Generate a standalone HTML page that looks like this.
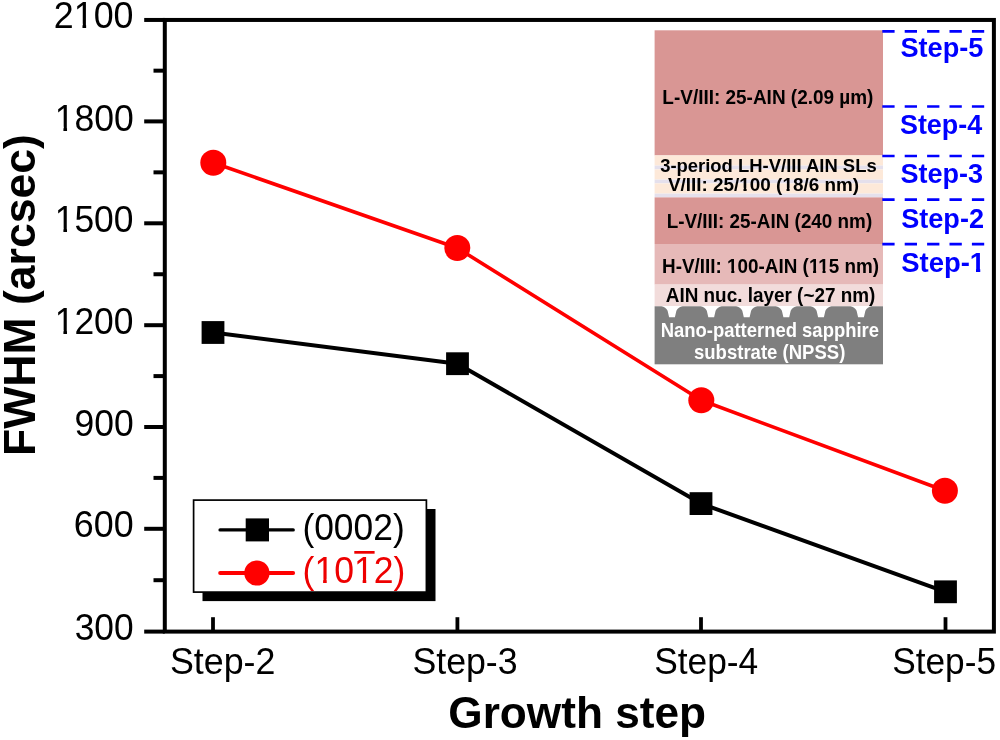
<!DOCTYPE html>
<html><head><meta charset="utf-8"><title>FWHM vs growth step</title><style>
html,body{margin:0;padding:0;background:#fff;width:1000px;height:740px;overflow:hidden}
svg{display:block}
text{font-family:"Liberation Sans",sans-serif}
</style></head><body>
<svg width="1000" height="740" viewBox="0 0 1000 740">
<defs><mask id="mt2" maskUnits="userSpaceOnUse" maskContentUnits="userSpaceOnUse" x="-2000" y="-2000" width="6000" height="6000"><rect x="-2000" y="-2000" width="6000" height="6000" fill="#fff"/><rect x="13.89" y="-3.92" width="7.14" height="5.74" fill="#000"/><rect x="24.74" y="-3.92" width="6.85" height="5.74" fill="#000"/><rect x="54.40" y="-3.92" width="7.14" height="5.74" fill="#000"/><rect x="65.26" y="-3.92" width="6.85" height="5.74" fill="#000"/></mask><mask id="mt3" maskUnits="userSpaceOnUse" maskContentUnits="userSpaceOnUse" x="-2000" y="-2000" width="6000" height="6000"><rect x="-2000" y="-2000" width="6000" height="6000" fill="#fff"/><rect x="22.58" y="-3.99" width="7.29" height="5.85" fill="#000"/><rect x="33.67" y="-3.99" width="7.00" height="5.85" fill="#000"/></mask><mask id="mt4" maskUnits="userSpaceOnUse" maskContentUnits="userSpaceOnUse" x="-2000" y="-2000" width="6000" height="6000"><rect x="-2000" y="-2000" width="6000" height="6000" fill="#fff"/><rect x="1.79" y="-3.94" width="7.17" height="5.77" fill="#000"/><rect x="12.69" y="-3.94" width="6.88" height="5.77" fill="#000"/></mask><mask id="mt5" maskUnits="userSpaceOnUse" maskContentUnits="userSpaceOnUse" x="-2000" y="-2000" width="6000" height="6000"><rect x="-2000" y="-2000" width="6000" height="6000" fill="#fff"/><rect x="1.80" y="-3.95" width="7.19" height="5.78" fill="#000"/><rect x="12.74" y="-3.95" width="6.91" height="5.78" fill="#000"/></mask><mask id="mt6" maskUnits="userSpaceOnUse" maskContentUnits="userSpaceOnUse" x="-2000" y="-2000" width="6000" height="6000"><rect x="-2000" y="-2000" width="6000" height="6000" fill="#fff"/><rect x="1.83" y="-3.97" width="7.26" height="5.83" fill="#000"/><rect x="12.86" y="-3.97" width="6.97" height="5.83" fill="#000"/></mask><mask id="mt18" maskUnits="userSpaceOnUse" maskContentUnits="userSpaceOnUse" x="-2000" y="-2000" width="6000" height="6000"><rect x="-2000" y="-2000" width="6000" height="6000" fill="#fff"/><rect x="69.68" y="-3.08" width="3.89" height="4.00" fill="#000"/><rect x="76.60" y="-3.08" width="3.65" height="4.00" fill="#000"/><rect x="111.62" y="-3.08" width="3.89" height="4.00" fill="#000"/><rect x="118.53" y="-3.08" width="3.65" height="4.00" fill="#000"/></mask><mask id="mt20" maskUnits="userSpaceOnUse" maskContentUnits="userSpaceOnUse" x="-2000" y="-2000" width="6000" height="6000"><rect x="-2000" y="-2000" width="6000" height="6000" fill="#fff"/><rect x="69.10" y="-3.24" width="4.16" height="4.24" fill="#000"/><rect x="76.51" y="-3.24" width="3.90" height="4.24" fill="#000"/><rect x="155.75" y="-3.24" width="4.16" height="4.24" fill="#000"/><rect x="163.16" y="-3.24" width="3.90" height="4.24" fill="#000"/><rect x="165.78" y="-3.24" width="4.16" height="4.24" fill="#000"/><rect x="173.18" y="-3.24" width="3.90" height="4.24" fill="#000"/></mask><mask id="mt28" maskUnits="userSpaceOnUse" maskContentUnits="userSpaceOnUse" x="-2000" y="-2000" width="6000" height="6000"><rect x="-2000" y="-2000" width="6000" height="6000" fill="#fff"/><rect x="71.18" y="-4.07" width="5.55" height="5.48" fill="#000"/><rect x="81.10" y="-4.07" width="5.19" height="5.48" fill="#000"/></mask></defs>
<rect width="1000" height="740" fill="#fff"/>
<line x1="144.2" y1="19.95" x2="164.8" y2="19.95" stroke="#000" stroke-width="4.0"/>
<line x1="144.2" y1="121.40" x2="164.8" y2="121.40" stroke="#000" stroke-width="4.0"/>
<line x1="144.2" y1="223.30" x2="164.8" y2="223.30" stroke="#000" stroke-width="4.0"/>
<line x1="144.2" y1="325.20" x2="164.8" y2="325.20" stroke="#000" stroke-width="4.0"/>
<line x1="144.2" y1="427.00" x2="164.8" y2="427.00" stroke="#000" stroke-width="4.0"/>
<line x1="144.2" y1="528.80" x2="164.8" y2="528.80" stroke="#000" stroke-width="4.0"/>
<line x1="144.2" y1="631.60" x2="164.8" y2="631.60" stroke="#000" stroke-width="4.0"/>
<line x1="153.5" y1="70.67" x2="164.8" y2="70.67" stroke="#000" stroke-width="4.0"/>
<line x1="153.5" y1="172.35" x2="164.8" y2="172.35" stroke="#000" stroke-width="4.0"/>
<line x1="153.5" y1="274.25" x2="164.8" y2="274.25" stroke="#000" stroke-width="4.0"/>
<line x1="153.5" y1="376.10" x2="164.8" y2="376.10" stroke="#000" stroke-width="4.0"/>
<line x1="153.5" y1="477.90" x2="164.8" y2="477.90" stroke="#000" stroke-width="4.0"/>
<line x1="153.5" y1="580.20" x2="164.8" y2="580.20" stroke="#000" stroke-width="4.0"/>
<line x1="213.0" y1="617.2" x2="213.0" y2="631.6" stroke="#000" stroke-width="3.8"/>
<line x1="457.4" y1="617.2" x2="457.4" y2="631.6" stroke="#000" stroke-width="3.8"/>
<line x1="701.0" y1="617.2" x2="701.0" y2="631.6" stroke="#000" stroke-width="3.8"/>
<line x1="945.5" y1="617.2" x2="945.5" y2="631.6" stroke="#000" stroke-width="3.8"/>
<rect x="164.8" y="19.95" width="829.0999999999999" height="611.65" fill="none" stroke="#000" stroke-width="4.0"/>
<rect x="654.6" y="30.3" width="228.39999999999998" height="125.10" fill="#D99694"/>
<rect x="654.6" y="155.40" width="228.39999999999998" height="10.2" fill="#FDE9D9"/>
<rect x="654.6" y="165.60" width="228.39999999999998" height="3.8" fill="#E5E0EC"/>
<rect x="654.6" y="169.40" width="228.39999999999998" height="10.2" fill="#FDE9D9"/>
<rect x="654.6" y="179.60" width="228.39999999999998" height="3.8" fill="#E5E0EC"/>
<rect x="654.6" y="183.40" width="228.39999999999998" height="10.2" fill="#FDE9D9"/>
<rect x="654.6" y="193.60" width="228.39999999999998" height="3.8" fill="#E5E0EC"/>
<rect x="654.6" y="197.4" width="228.39999999999998" height="46.60" fill="#D99694"/>
<rect x="654.6" y="244" width="228.39999999999998" height="40.60" fill="#E6B9B8"/>
<rect x="654.6" y="284.6" width="228.39999999999998" height="21.70" fill="#F2DCDB"/>
<rect x="654.6" y="306.3" width="228.39999999999998" height="58.00" fill="#7F7F7F"/>
<path d="M661.50,306.1 L682.50,306.1 C680.00,306.6 677.60,308.6 676.40,310.7 L674.90,317.2 L669.10,317.2 L667.60,310.7 C666.40,308.6 664.00,306.6 661.50,306.1 Z" fill="#fff"/>
<path d="M700.70,306.1 L721.70,306.1 C719.20,306.6 716.80,308.6 715.60,310.7 L714.10,317.2 L708.30,317.2 L706.80,310.7 C705.60,308.6 703.20,306.6 700.70,306.1 Z" fill="#fff"/>
<path d="M736.20,306.1 L757.20,306.1 C754.70,306.6 752.30,308.6 751.10,310.7 L749.60,317.2 L743.80,317.2 L742.30,310.7 C741.10,308.6 738.70,306.6 736.20,306.1 Z" fill="#fff"/>
<path d="M775.80,306.1 L796.80,306.1 C794.30,306.6 791.90,308.6 790.70,310.7 L789.20,317.2 L783.40,317.2 L781.90,310.7 C780.70,308.6 778.30,306.6 775.80,306.1 Z" fill="#fff"/>
<path d="M810.50,306.1 L831.50,306.1 C829.00,306.6 826.60,308.6 825.40,310.7 L823.90,317.2 L818.10,317.2 L816.60,310.7 C815.40,308.6 813.00,306.6 810.50,306.1 Z" fill="#fff"/>
<path d="M850.50,306.1 L871.50,306.1 C869.00,306.6 866.60,308.6 865.40,310.7 L863.90,317.2 L858.10,317.2 L856.60,310.7 C855.40,308.6 853.00,306.6 850.50,306.1 Z" fill="#fff"/>
<line x1="882.3" y1="31.4" x2="985" y2="31.4" stroke="#0000FF" stroke-width="2.7" stroke-dasharray="12.3 10.1"/>
<line x1="882.3" y1="106.5" x2="985" y2="106.5" stroke="#0000FF" stroke-width="2.7" stroke-dasharray="12.3 10.1"/>
<line x1="882.3" y1="156.0" x2="985" y2="156.0" stroke="#0000FF" stroke-width="2.7" stroke-dasharray="12.3 10.1"/>
<line x1="882.3" y1="199.6" x2="985" y2="199.6" stroke="#0000FF" stroke-width="2.7" stroke-dasharray="12.3 10.1"/>
<line x1="882.3" y1="244.1" x2="985" y2="244.1" stroke="#0000FF" stroke-width="2.7" stroke-dasharray="12.3 10.1"/>
<polyline points="213.0,332.5 457.5,363.7 701.0,503.6 945.5,591.8" fill="none" stroke="#000" stroke-width="4" stroke-linejoin="round"/>
<polyline points="213.3,162.8 457.3,248.0 701.3,400.3 944.9,490.7" fill="none" stroke="#FF0000" stroke-width="3.6" stroke-linejoin="round"/>
<rect x="201.60" y="321.10" width="22.8" height="22.8" fill="#000"/>
<rect x="446.10" y="352.30" width="22.8" height="22.8" fill="#000"/>
<rect x="689.60" y="492.20" width="22.8" height="22.8" fill="#000"/>
<rect x="934.10" y="580.40" width="22.8" height="22.8" fill="#000"/>
<circle cx="213.3" cy="162.8" r="13" fill="#FF0000"/>
<circle cx="457.3" cy="248.0" r="13" fill="#FF0000"/>
<circle cx="701.3" cy="400.3" r="13" fill="#FF0000"/>
<circle cx="944.9" cy="490.7" r="13" fill="#FF0000"/>
<rect x="202.5" y="509" width="233" height="92.1" fill="#000"/>
<rect x="193.6" y="500.1" width="232.8" height="92" fill="#fff" stroke="#000" stroke-width="1.7"/>
<line x1="220.1" y1="529.9" x2="293.2" y2="529.9" stroke="#000" stroke-width="3.4" stroke-linecap="round"/>
<rect x="245.7" y="518.4" width="23.3" height="23" fill="#000"/>
<line x1="220.1" y1="573" x2="293.2" y2="573" stroke="#FF0000" stroke-width="3.8" stroke-linecap="round"/>
<circle cx="256.9" cy="573" r="12.6" fill="#FF0000"/>
<rect x="354.3" y="551" width="20.3" height="2.7" fill="#EE0000"/>
<g font-family="'Liberation Sans', sans-serif" opacity="0.999">
<g transform="translate(302.38,540.30) scale(0.9684,1)"><text id="t1" x="0" y="0" font-size="36.57" font-weight="normal" fill="#000">(0002)</text></g>
<g transform="translate(302.57,582.80) scale(0.9761,1)"><g mask="url(#mt2)"><text id="t2" x="0" y="0" font-size="36.43" font-weight="normal" fill="#EE0000">(1012)</text></g></g>
<g transform="translate(53.81,27.73) scale(0.9600,1)"><g mask="url(#mt3)"><text id="t3" x="0" y="0" font-size="37.32" font-weight="normal" fill="#000">2100</text></g></g>
<g transform="translate(54.72,130.63) scale(0.9708,1)"><g mask="url(#mt4)"><text id="t4" x="0" y="0" font-size="36.62" font-weight="normal" fill="#000">1800</text></g></g>
<g transform="translate(54.74,232.48) scale(0.9632,1)"><g mask="url(#mt5)"><text id="t5" x="0" y="0" font-size="36.76" font-weight="normal" fill="#000">1500</text></g></g>
<g transform="translate(54.74,334.28) scale(0.9540,1)"><g mask="url(#mt6)"><text id="t6" x="0" y="0" font-size="37.11" font-weight="normal" fill="#000">1200</text></g></g>
<g transform="translate(74.51,436.08) scale(0.9642,1)"><text id="t7" x="0" y="0" font-size="36.76" font-weight="normal" fill="#000">900</text></g>
<g transform="translate(73.86,537.48) scale(0.9750,1)"><text id="t8" x="0" y="0" font-size="36.76" font-weight="normal" fill="#000">600</text></g>
<g transform="translate(74.69,639.73) scale(0.9611,1)"><text id="t9" x="0" y="0" font-size="36.76" font-weight="normal" fill="#000">300</text></g>
<g transform="translate(169.99,674.10) scale(0.9748,1)"><text id="t10" x="0" y="0" font-size="36.71" font-weight="normal" fill="#000">Step-2</text></g>
<g transform="translate(412.39,674.10) scale(0.9731,1)"><text id="t11" x="0" y="0" font-size="36.71" font-weight="normal" fill="#000">Step-3</text></g>
<g transform="translate(654.21,674.10) scale(0.9623,1)"><text id="t12" x="0" y="0" font-size="36.71" font-weight="normal" fill="#000">Step-4</text></g>
<g transform="translate(892.21,674.10) scale(0.9600,1)"><text id="t13" x="0" y="0" font-size="36.71" font-weight="normal" fill="#000">Step-5</text></g>
<g transform="translate(448.33,727.80) scale(0.9974,1)"><text id="t14" x="0" y="0" font-size="44.29" font-weight="bold" fill="#000">Growth step</text></g>
<g transform="translate(35.20,455.90) rotate(-90) scale(1.0246,1)"><text id="t15" x="0" y="0" font-size="43.50" font-weight="bold" fill="#000">FWHM (arcsec)</text></g>
<g transform="translate(662.37,103.80) scale(0.9347,1)"><text id="t16" x="0" y="0" font-size="20.29" font-weight="bold" fill="#000">L-V/III: 25-AIN (2.09 µm)</text></g>
<g transform="translate(660.14,171.50) scale(1.0230,1)"><text id="t17" x="0" y="0" font-size="18.04" font-weight="bold" fill="#000">3-period LH-V/III AIN SLs</text></g>
<g transform="translate(668.01,190.90) scale(1.0261,1)"><g mask="url(#mt18)"><text id="t18" x="0" y="0" font-size="18.41" font-weight="bold" fill="#000">V/III: 25/100 (18/6 nm)</text></g></g>
<g transform="translate(666.72,227.80) scale(0.9436,1)"><text id="t19" x="0" y="0" font-size="20.00" font-weight="bold" fill="#000">L-V/III: 25-AIN (240 nm)</text></g>
<g transform="translate(662.12,272.70) scale(0.9438,1)"><g mask="url(#mt20)"><text id="t20" x="0" y="0" font-size="20.00" font-weight="bold" fill="#000">H-V/III: 100-AIN (115 nm)</text></g></g>
<g transform="translate(665.73,301.70) scale(0.9566,1)"><text id="t21" x="0" y="0" font-size="19.78" font-weight="bold" fill="#000">AIN nuc. layer (~27 nm)</text></g>
<g transform="translate(660.65,337.00) scale(0.9231,1)"><text id="t22" x="0" y="0" font-size="20.00" font-weight="bold" fill="#fff">Nano-patterned sapphire</text></g>
<g transform="translate(694.00,359.20) scale(0.9456,1)"><text id="t23" x="0" y="0" font-size="19.60" font-weight="bold" fill="#fff">substrate (NPSS)</text></g>
<g transform="translate(900.43,57.47) scale(0.9766,1)"><text id="t24" x="0" y="0" font-size="27.82" font-weight="bold" fill="#0000FF">Step-5</text></g>
<g transform="translate(899.94,134.22) scale(0.9563,1)"><text id="t25" x="0" y="0" font-size="28.17" font-weight="bold" fill="#0000FF">Step-4</text></g>
<g transform="translate(900.44,182.97) scale(0.9599,1)"><text id="t26" x="0" y="0" font-size="28.17" font-weight="bold" fill="#0000FF">Step-3</text></g>
<g transform="translate(901.19,227.97) scale(0.9621,1)"><text id="t27" x="0" y="0" font-size="28.17" font-weight="bold" fill="#0000FF">Step-2</text></g>
<g transform="translate(901.18,272.47) scale(0.9750,1)"><g mask="url(#mt28)"><text id="t28" x="0" y="0" font-size="28.17" font-weight="bold" fill="#0000FF">Step-1</text></g></g>
</g>
</svg>
</body></html>
